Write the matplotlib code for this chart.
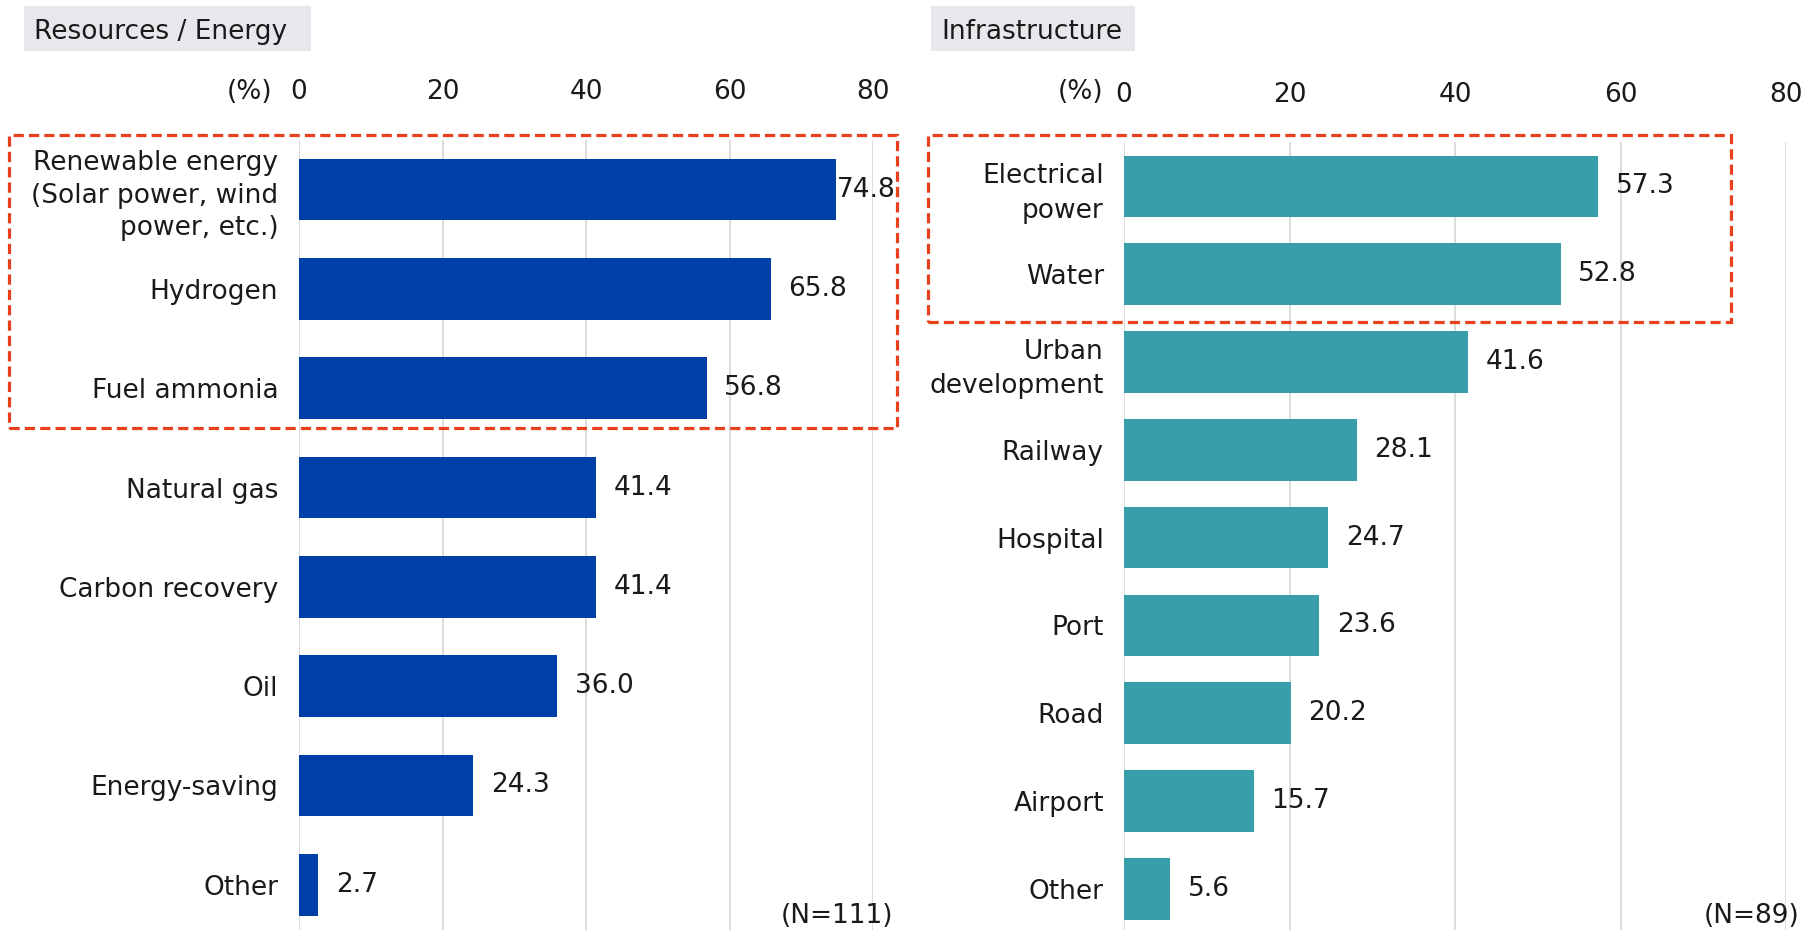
import matplotlib
matplotlib.use("Agg")
import matplotlib.pyplot as plt
from matplotlib.patches import Rectangle

# ---- data ----
energy_labels = ["Renewable energy\n(Solar power, wind\npower, etc.)", "Hydrogen",
                 "Fuel ammonia", "Natural gas", "Carbon recovery", "Oil",
                 "Energy-saving", "Other"]
energy_values = [74.8, 65.8, 56.8, 41.4, 41.4, 36.0, 24.3, 2.7]

infra_labels = ["Electrical\npower", "Water", "Urban\ndevelopment", "Railway",
                "Hospital", "Port", "Road", "Airport", "Other"]
infra_values = [57.3, 52.8, 41.6, 28.1, 24.7, 23.6, 20.2, 15.7, 5.6]

x_ticks = [0, 20, 40, 60, 80]

W, H = 1802, 930
DPI = 100
FS = 19
TXT = "#1a1a1a"
GRID = "#d9d9d9"
BLUE = "#0040a6"
TEAL = "#389eaa"
RED = "#e8401c"

plt.rcParams["font.family"] = ["DejaVu Sans"]

fig = plt.figure(figsize=(W / DPI, H / DPI), dpi=DPI)


def fx(px):
    return px / W


def fy(py):
    return 1 - py / H


def panel(left_px, right_px, top_px, n, step_px, labels, values, color,
          bar_h, label_offsets, ylabel_pad, linesp):
    height_px = H - top_px
    ax = fig.add_axes([fx(left_px), 0, (right_px - left_px) / W, height_px / H])
    ax.set_xlim(0, 80)
    ax.set_ylim(-0.5 + height_px / step_px, -0.5)
    ypos = list(range(n))
    ax.barh(ypos, values, height=bar_h, color=color, zorder=2)
    ax.set_yticks(ypos)
    ax.set_yticklabels(labels, fontsize=FS, color=TXT, linespacing=linesp)
    ax.tick_params(axis="y", length=0, pad=ylabel_pad)
    ax.xaxis.tick_top()
    ax.set_xticks(x_ticks)
    ax.set_xticklabels([str(t) for t in x_ticks], fontsize=FS, color=TXT)
    ax.tick_params(axis="x", length=0, pad=25)
    ax.grid(axis="x", color=GRID, linewidth=1.3, zorder=0)
    ax.set_axisbelow(True)
    for s in ax.spines.values():
        s.set_visible(False)
    for i, (v, off) in enumerate(zip(values, label_offsets)):
        ax.annotate(f"{v:.1f}", xy=(v, i), xytext=(off, 0),
                    textcoords="offset points", ha="left", va="center",
                    fontsize=FS, color=TXT, annotation_clip=False)
    return ax


ax1 = panel(299, 873, 140, len(energy_values), 99.3, energy_labels,
            energy_values, BLUE, 0.62,
            [1] + [12.5] * (len(energy_values) - 1), 15, 1.32)
ax2 = panel(1124, 1786, 142.5, len(infra_values), 87.8, infra_labels,
            infra_values, TEAL, 0.70,
            [12.5] * len(infra_values), 14.5, 1.42)


def title_box(x0, x1, y0, y1, text):
    fig.add_artist(Rectangle((fx(x0), fy(y1)), fx(x1 - x0), (y1 - y0) / H,
                             transform=fig.transFigure, facecolor="#e6e8ec",
                             edgecolor="none", zorder=1))
    fig.text(fx(x0 + 10), fy((y0 + y1) / 2 + 3), text, ha="left", va="center",
             fontsize=FS, color=TXT)


title_box(24, 311, 6, 51, "Resources / Energy")
title_box(931, 1135, 6, 51, "Infrastructure")

# unit markers beside the zero tick
fig.text(fx(272), fy(92), "(%)", ha="right", va="center", fontsize=FS, color=TXT)
fig.text(fx(1103), fy(92), "(%)", ha="right", va="center", fontsize=FS, color=TXT)

# sample sizes
fig.text(fx(893), fy(916), "(N=111)", ha="right", va="center", fontsize=FS, color=TXT)
fig.text(fx(1800), fy(916), "(N=89)", ha="right", va="center", fontsize=FS, color=TXT)


def dashed_box(x0, x1, y0, y1):
    fig.add_artist(Rectangle((fx(x0), fy(y1)), fx(x1 - x0), (y1 - y0) / H,
                             transform=fig.transFigure, fill=False,
                             edgecolor=RED, linewidth=2.3,
                             linestyle=(0, (3.2, 1.6)), zorder=5))


dashed_box(9, 897, 135, 428)
dashed_box(928, 1731, 135, 322)

fig.savefig("out.png", dpi=DPI)
